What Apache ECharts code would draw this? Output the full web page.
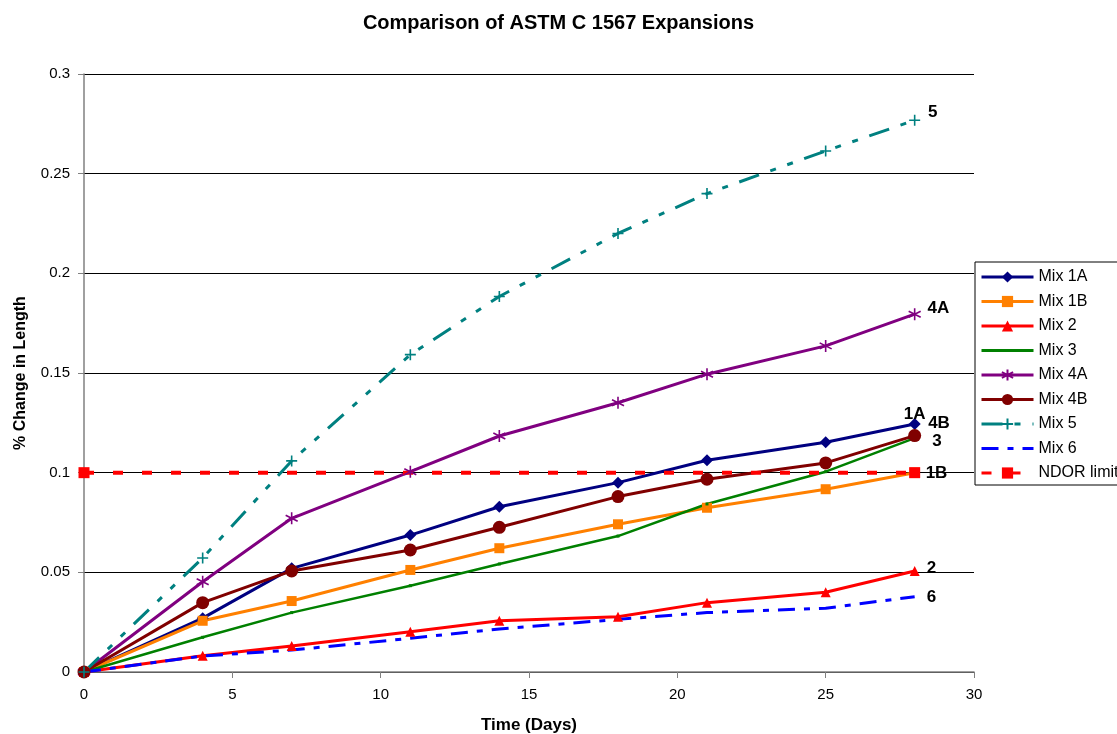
<!DOCTYPE html>
<html>
<head>
<meta charset="utf-8">
<script src="https://cdn.jsdelivr.net/npm/echarts@6/dist/echarts.min.js"></script>
<style>
html,body{margin:0;padding:0;background:#fff;}
#chart{width:1117px;height:734px;}
</style>
</head>
<body>
<div id="chart"></div>
<script>
// ---- data ----
const days = [0, 4, 7, 11, 14, 18, 21, 25, 28];
const mix1A = [0, 0.027, 0.052, 0.0687, 0.0829, 0.095, 0.1062, 0.1153, 0.1244];
const mix1B = [0, 0.0257, 0.0356, 0.0512, 0.0621, 0.0741, 0.0824, 0.0917, 0.1000];
const mix2  = [0, 0.0082, 0.013, 0.0202, 0.0257, 0.0277, 0.0348, 0.0400, 0.0507];
const mix3  = [0, 0.0174, 0.0298, 0.0433, 0.0542, 0.0682, 0.0843, 0.1005, 0.1173];
const mix4A = [0, 0.0453, 0.0771, 0.1005, 0.1184, 0.1351, 0.1494, 0.1636, 0.1795];
const mix4B = [0, 0.0348, 0.0507, 0.0612, 0.0726, 0.0880, 0.0967, 0.1049, 0.1186];
const mix5  = [0, 0.0572, 0.1059, 0.1592, 0.1884, 0.2200, 0.2400, 0.2614, 0.2768];
const mix6  = [0, 0.0080, 0.0110, 0.0169, 0.0216, 0.0264, 0.0298, 0.0320, 0.0378];
const ndorDays = [0, 28];
const ndorLimit = [0.1, 0.1];
const seriesNames = ['Mix 1A','Mix 1B','Mix 2','Mix 3','Mix 4A','Mix 4B','Mix 5','Mix 6','NDOR limit'];
const endLabels = ['1A','1B','2','3','4A','4B','5','6',''];
const xTicks = [0,5,10,15,20,25,30];
const yTicks = [0,0.05,0.1,0.15,0.2,0.25,0.3];

const font = 'Liberation Sans, Arial, sans-serif';
const endLabelStyle = { color: '#000', fontWeight: 'bold', fontSize: 17, fontFamily: font };

function pairs(xs, ys){ return xs.map((x,i)=>[x, ys[i]]); }
function withEndLabel(xs, ys, text, lbl){
  const d = pairs(xs, ys);
  const last = d.length - 1;
  d[last] = { value: d[last], label: Object.assign({ show: true, formatter: text }, endLabelStyle, lbl) };
  return d;
}

const asterisk = 'path://M0,-10L0,10M-8.7,-5L8.7,5M-8.7,5L8.7,-5';
const plus = 'path://M0,-10L0,10M-10,0L10,0';

const defs = [
  { name: seriesNames[0], color:'#000080', data: withEndLabel(days, mix1A, endLabels[0], {position:'top', offset:[0,10]}),
    symbol:'diamond', symbolSize:12, lineWidth:3 },
  { name: seriesNames[1], color:'#FF8000', data: withEndLabel(days, mix1B, endLabels[1], {position:'right', offset:[1,1]}),
    symbol:'rect', symbolSize:10, lineWidth:3 },
  { name: seriesNames[2], color:'#FF0000', data: withEndLabel(days, mix2, endLabels[2], {position:'right', offset:[2,-3]}),
    symbol:'triangle', symbolSize:10, lineWidth:3 },
  { name: seriesNames[3], color:'#008000', data: withEndLabel(days, mix3, endLabels[3], {position:'right', offset:[11,3]}),
    symbol:'rect', symbolSize:3, lineWidth:2.5, hideLegendSymbol:true },
  { name: seriesNames[4], color:'#800080', data: withEndLabel(days, mix4A, endLabels[4], {position:'right', offset:[1,-6]}),
    symbol:asterisk, symbolSize:12, lineWidth:3, stroke:true },
  { name: seriesNames[5], color:'#800000', data: withEndLabel(days, mix4B, endLabels[5], {position:'right', offset:[2,-12]}),
    symbol:'circle', symbolSize:13, lineWidth:3 },
  { name: seriesNames[6], color:'#008080', data: withEndLabel(days, mix5, endLabels[6], {position:'right', offset:[2,-8]}),
    symbol:plus, symbolSize:11, lineWidth:3, stroke:true, dash:[21,12,6,12,6,12] },
  { name: seriesNames[7], color:'#0000FF', data: pairs(days, mix6),
    symbol:'none', symbolSize:0, lineWidth:3, dash:[17,9,6,9], hideLegendSymbol:true,
    endLabel: Object.assign({ show:true, formatter: endLabels[7], distance: 12, offset:[0,1] }, endLabelStyle) },
  { name: seriesNames[8], color:'#FF0000', data: pairs(ndorDays, ndorLimit),
    symbol:'rect', symbolSize:11, lineWidth:4, dash:[10,19] }
];

const series = defs.map(s => {
  const o = {
    name: s.name,
    type: 'line',
    data: s.data,
    symbol: s.symbol,
    symbolSize: s.symbolSize,
    showAllSymbol: true,
    animation: false,
    lineStyle: { color: s.color, width: s.lineWidth, type: s.dash || 'solid' },
    itemStyle: s.stroke ? { color: s.color, borderColor: s.color, borderWidth: 1.6 } : { color: s.color, borderWidth: 0 },
    emphasis: { disabled: true },
    z: 2
  };
  if (s.endLabel) o.endLabel = s.endLabel;
  return o;
});

const legendData = defs.map(s => {
  const item = { name: s.name, lineStyle: { width: 3 } };
  if (s.hideLegendSymbol) item.itemStyle = { opacity: 0 };
  return item;
});

const chart = echarts.init(document.getElementById('chart'), null, { renderer: 'canvas' });
chart.setOption({
  backgroundColor: '#fff',
  animation: false,
  title: {
    text: 'Comparison of ASTM C 1567 Expansions',
    left: 'center', top: 8,
    textStyle: { fontFamily: font, fontWeight: 'bold', fontSize: 20, color: '#000' }
  },
  grid: { left: 84, right: 143, top: 74, bottom: 62, containLabel: false, outerBoundsMode: 'none' },
  legend: {
    orient: 'vertical', left: 975, top: 262,
    padding: [7, 40, 4, 5],
    itemWidth: 52, itemHeight: 14, itemGap: 8.5,
    borderColor: '#000', borderWidth: 1, backgroundColor: '#fff',
    textStyle: { fontFamily: font, fontSize: 16, color: '#000' },
    data: legendData
  },
  xAxis: {
    type: 'value', min: xTicks[0], max: xTicks[xTicks.length-1], interval: 5,
    name: 'Time (Days)', nameLocation: 'middle', nameGap: 45,
    nameTextStyle: { fontFamily: font, fontWeight: 'bold', fontSize: 17, color: '#000' },
    axisLine: { show: true, onZero: false, lineStyle: { color: '#808080', width: 1.5 } },
    axisTick: { show: true, length: 6, lineStyle: { color: '#808080' } },
    axisLabel: { fontFamily: font, fontSize: 15, color: '#000', margin: 15 },
    splitLine: { show: false }
  },
  yAxis: {
    type: 'value', min: yTicks[0], max: yTicks[yTicks.length-1], interval: 0.05,
    name: '% Change in Length', nameLocation: 'middle', nameGap: 55,
    nameTextStyle: { fontFamily: font, fontWeight: 'bold', fontSize: 16, color: '#000' },
    axisLine: { show: true, lineStyle: { color: '#808080', width: 1.5 } },
    axisTick: { show: true, length: 6, lineStyle: { color: '#808080' } },
    axisLabel: { fontFamily: font, fontSize: 15, color: '#000', margin: 14 },
    splitLine: { show: true, lineStyle: { color: '#000', width: 1 } }
  },
  series: series
});
</script>
</body>
</html>
